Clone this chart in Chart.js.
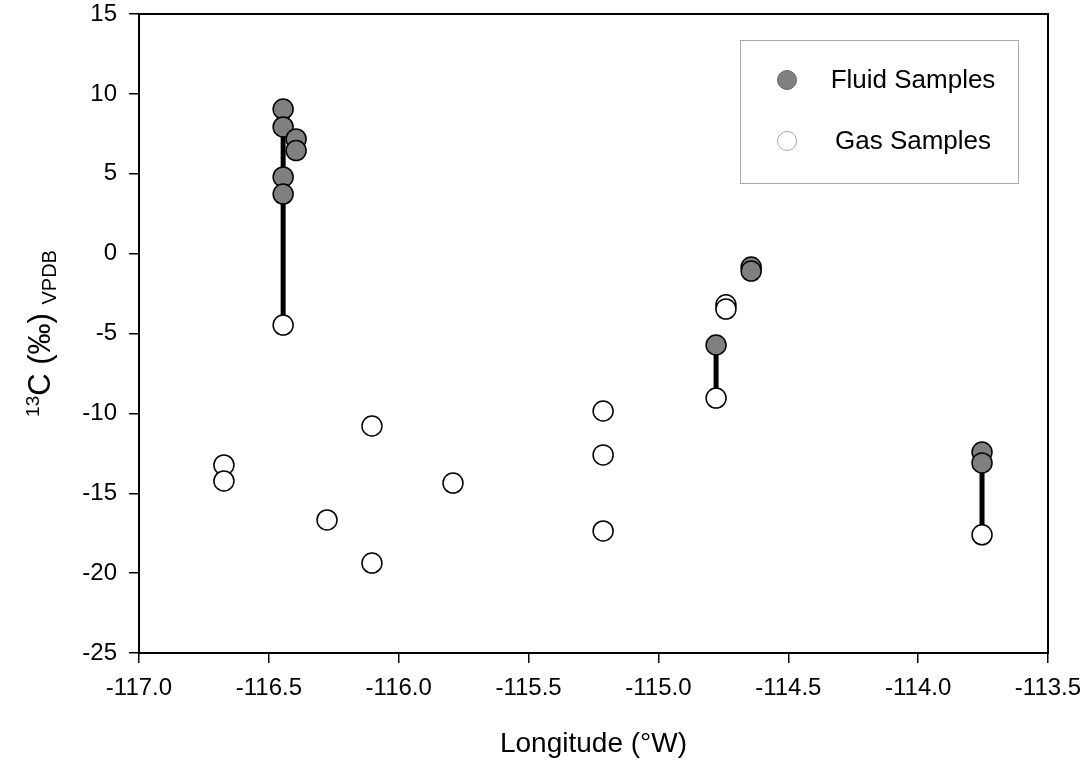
<!DOCTYPE html>
<html lang="en">
<head>
<meta charset="UTF-8">
<title>13C vs Longitude</title>
<script src="https://cdn.jsdelivr.net/npm/chart.js@4.4.1/dist/chart.umd.min.js"></script>
<style>
  html, body { margin: 0; padding: 0; background: #fff; }
  #wrap { width: 1090px; height: 761px; }
</style>
</head>
<body>
<div id="wrap"><canvas id="chart" width="1090" height="761"></canvas></div>
<script>
// Fluid samples (longitude, d13C)
const fluidLon = [-116.445, -116.445, -116.395, -116.395, -116.445, -116.445, -114.778, -114.643, -114.643, -113.754, -113.754];
const fluidC13 = [9.05, 7.93, 7.18, 6.45, 4.8, 3.73, -5.72, -0.84, -1.09, -12.42, -13.1];

// Gas samples
const gasLon = [-116.445, -114.778, -114.74, -114.74, -116.673, -116.673, -116.276, -116.103, -116.103, -115.791, -115.213, -115.213, -115.213, -113.754];
const gasC13 = [-4.47, -9.04, -3.2, -3.47, -13.23, -14.23, -16.67, -10.79, -19.37, -14.36, -9.85, -12.6, -17.36, -17.6];

// vertical tie lines between fluid and gas at same site
const tieLon = [-116.445, -114.778, -113.754];
const tieTop = [7.93, -5.72, -13.1];
const tieBottom = [-4.47, -9.04, -17.6];

const xTicks = [-117, -116.5, -116, -115.5, -115, -114.5, -114, -113.5];
const yTicks = [15, 10, 5, 0, -5, -10, -15, -20, -25];

const FONT = "Arial, 'Liberation Sans', sans-serif";

const toPts = (xs, ys) => xs.map((x, i) => ({ x: x, y: ys[i] }));

const datasets = [];
tieLon.forEach((lon, i) => {
  datasets.push({
    type: 'line',
    label: 'tie' + i,
    data: [{ x: lon, y: tieTop[i] }, { x: lon, y: tieBottom[i] }],
    borderColor: '#000',
    borderWidth: 5,
    pointRadius: 0,
    order: 3
  });
});
datasets.push({
  type: 'scatter',
  label: 'Fluid Samples',
  data: toPts(fluidLon, fluidC13),
  backgroundColor: '#808080',
  borderColor: '#000',
  borderWidth: 1.5,
  pointRadius: 10,
  order: 2,
  legendStroke: '#666'
});
datasets.push({
  type: 'scatter',
  label: 'Gas Samples',
  data: toPts(gasLon, gasC13),
  backgroundColor: '#fff',
  borderColor: '#000',
  borderWidth: 1.5,
  pointRadius: 10,
  order: 1,
  legendStroke: '#aaa'
});

// frame, legend box and y-axis title
const extras = {
  id: 'extras',
  afterDraw(chart) {
    const ctx = chart.ctx;
    const a = chart.chartArea;
    ctx.save();
    ctx.strokeStyle = '#000';
    ctx.lineWidth = 2;
    ctx.strokeRect(a.left, a.top, a.right - a.left, a.bottom - a.top);

    // legend
    ctx.lineWidth = 1;
    ctx.strokeStyle = '#aaa';
    ctx.fillStyle = '#fff';
    ctx.fillRect(740.5, 40.5, 278, 143);
    ctx.strokeRect(740.5, 40.5, 278, 143);
    const items = chart.data.datasets.filter(d => d.type === 'scatter');
    items.forEach((d, i) => {
      const cy = 80 + i * 61;
      ctx.beginPath();
      ctx.arc(787, cy, 9.5, 0, Math.PI * 2);
      ctx.fillStyle = d.backgroundColor;
      ctx.fill();
      ctx.strokeStyle = d.legendStroke;
      ctx.lineWidth = 1;
      ctx.stroke();
      ctx.fillStyle = '#000';
      ctx.font = '26px ' + FONT;
      ctx.textAlign = 'center';
      ctx.textBaseline = 'middle';
      ctx.fillText(d.label, 913, cy + 1);
    });

    // y-axis title: 13C (‰) VPDB
    const parts = [
      { t: '13', f: '19px ' + FONT, dy: -11 },
      { t: 'C (‰) ', f: '31px ' + FONT, dy: 0 },
      { t: 'VPDB', f: '20px ' + FONT, dy: 6 }
    ];
    let total = 0;
    parts.forEach(p => { ctx.font = p.f; p.w = ctx.measureText(p.t).width; total += p.w; });
    ctx.translate(50, (a.top + a.bottom) / 2);
    ctx.rotate(-Math.PI / 2);
    ctx.textAlign = 'left';
    ctx.textBaseline = 'alphabetic';
    ctx.fillStyle = '#000';
    let x = -total / 2;
    parts.forEach(p => {
      ctx.font = p.f;
      ctx.fillText(p.t, x, p.dy);
      x += p.w;
    });
    ctx.restore();
  }
};

new Chart(document.getElementById('chart'), {
  data: { datasets: datasets },
  options: {
    responsive: false,
    animation: false,
    layout: { padding: { top: 14, right: 42, left: 0, bottom: 0 } },
    plugins: {
      legend: { display: false },
      tooltip: { enabled: false }
    },
    scales: {
      x: {
        type: 'linear',
        min: xTicks[0],
        max: xTicks[xTicks.length - 1],
        afterBuildTicks: s => { s.ticks = xTicks.map(v => ({ value: v })); },
        afterFit: s => { s.height = 108; s.paddingLeft = 0; s.paddingRight = 0; },
        ticks: {
          color: '#000',
          font: { family: FONT, size: 24 },
          padding: 11,
          maxRotation: 0,
          callback: v => v.toFixed(1)
        },
        grid: { display: true, drawOnChartArea: false, drawTicks: true, tickLength: 10, color: '#000', lineWidth: 1.5 },
        border: { display: true, color: '#000', width: 2 },
        title: { display: true, text: 'Longitude (°W)', color: '#000', font: { family: FONT, size: 28 }, padding: { top: 4, bottom: 0 } }
      },
      y: {
        type: 'linear',
        min: yTicks[yTicks.length - 1],
        max: yTicks[0],
        afterBuildTicks: s => { s.ticks = yTicks.map(v => ({ value: v })); },
        afterFit: s => { s.width = 139; s.paddingTop = 0; s.paddingBottom = 0; },
        ticks: {
          color: '#000',
          font: { family: FONT, size: 24 },
          padding: 12
        },
        grid: { display: true, drawOnChartArea: false, drawTicks: true, tickLength: 10, color: '#000', lineWidth: 1.5 },
        border: { display: true, color: '#000', width: 2 }
      }
    }
  },
  plugins: [extras]
});
</script>
</body>
</html>
